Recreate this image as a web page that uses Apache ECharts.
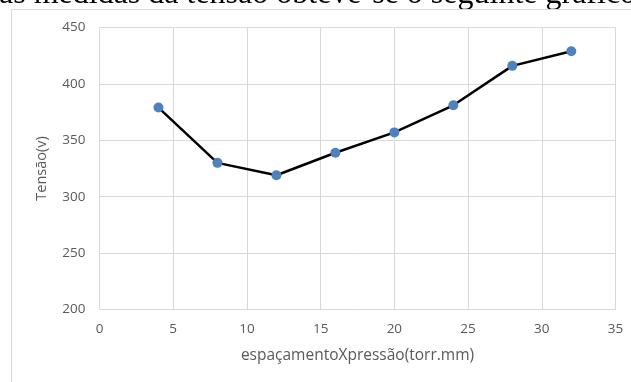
<!DOCTYPE html>
<html><head><meta charset="utf-8">
<script src="https://cdn.jsdelivr.net/npm/echarts@6/dist/echarts.min.js"></script>
<style>html,body{margin:0;padding:0;background:#fff;}#c{width:631px;height:382px;}</style>
</head><body><div id="c"></div>
<script>
const xValues = [4, 8, 12, 16, 20, 24, 28, 32];
const tensao = [379, 330, 319, 339, 357, 381, 416, 429];
const xAxisTitle = 'espaçamentoXpressão(torr.mm)';
const yAxisTitle = 'Tensão(v)';
const captionText = 'as medidas da tensão obteve-se o seguinte gráfico';

const chart = echarts.init(document.getElementById('c'), null, {renderer: 'canvas'});
const labelFont = 'Open Sans';
chart.setOption({
  animation: false,
  backgroundColor: '#fff',
  graphic: [
    {type: 'text', left: -1, top: -21, silent: true,
     style: {text: captionText, font: '32px "Liberation Serif"', fill: '#000'}},
    {type: 'rect', shape: {x: 11.5, y: 9.5, width: 700, height: 500},
     style: {fill: 'none', stroke: '#d9d9d9', lineWidth: 1}, silent: true}
  ],
  grid: {left: 99.5, right: 15.5, top: 27.5, bottom: 72.5, containLabel: false},
  xAxis: {
    type: 'value', min: 0, max: 35, interval: 5,
    name: xAxisTitle, nameLocation: 'middle', nameGap: 38,
    nameTextStyle: {color: '#595959', fontSize: 15.5, fontFamily: labelFont},
    axisLine: {show: true, lineStyle: {color: '#d9d9d9'}},
    axisTick: {show: false},
    axisLabel: {color: '#595959', fontSize: 13.5, fontFamily: labelFont, margin: 13},
    splitLine: {show: true, lineStyle: {color: '#d9d9d9', width: 1}}
  },
  yAxis: {
    type: 'value', min: 200, max: 450, interval: 50,
    name: yAxisTitle, nameLocation: 'middle', nameGap: 50,
    nameTextStyle: {color: '#595959', fontSize: 14.5, fontFamily: labelFont},
    axisLine: {show: false},
    axisTick: {show: false},
    axisLabel: {color: '#595959', fontSize: 13.5, fontFamily: labelFont, margin: 14},
    splitLine: {show: true, lineStyle: {color: '#d9d9d9', width: 1}}
  },
  series: [{
    type: 'line',
    data: xValues.map((x, i) => [x, tensao[i]]),
    symbol: 'circle', symbolSize: 10,
    lineStyle: {color: '#000', width: 2.5},
    itemStyle: {color: '#4f81bd'}
  }]
});
</script></body></html>
